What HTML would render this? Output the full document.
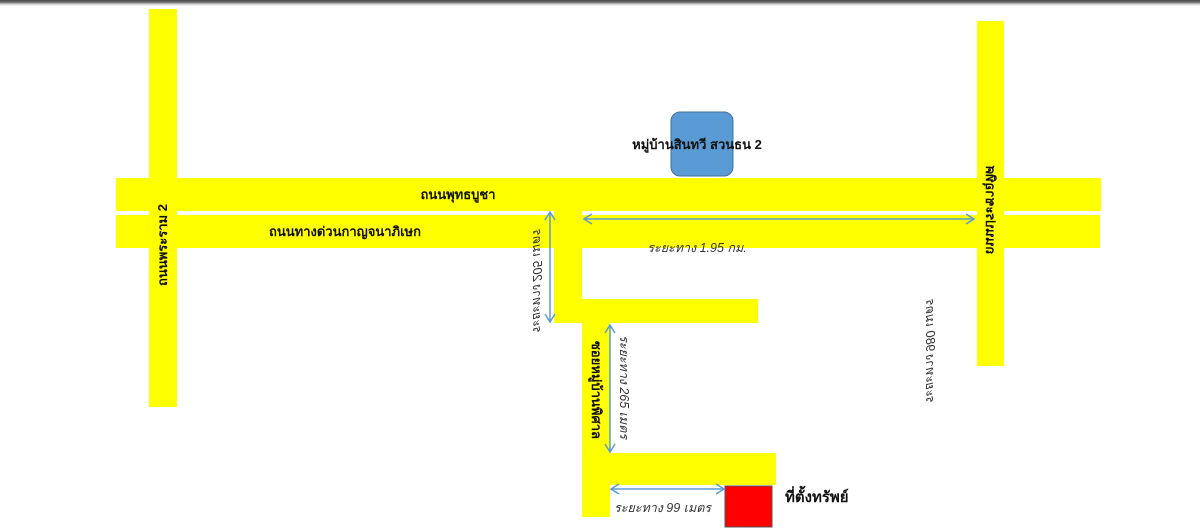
<!DOCTYPE html>
<html><head><meta charset="utf-8"><style>
html,body{margin:0;padding:0;background:#fff;}
body{width:1200px;height:532px;overflow:hidden;position:relative;}
svg{position:absolute;left:0;top:0;}
text{font-family:"Liberation Sans","Noto Sans CJK SC",sans-serif;}
</style></head><body>
<svg width="1200" height="532" viewBox="0 0 1200 532" xmlns="http://www.w3.org/2000/svg">
<defs>
<linearGradient id="sh" x1="0" y1="0" x2="0" y2="1"><stop offset="0" stop-color="#444"/><stop offset="0.35" stop-color="#777"/><stop offset="1" stop-color="#fff" stop-opacity="0"/></linearGradient>
</defs>
<rect x="0" y="0" width="1200" height="7" fill="url(#sh)"/>
<g fill="#ffff00">
<rect x="149" y="9" width="28" height="398"/>
<rect x="977" y="21" width="27" height="345"/>
<rect x="116" y="178" width="985" height="33"/>
<rect x="116" y="215" width="984" height="33"/>
<rect x="554" y="211" width="28" height="112"/>
<rect x="582" y="299" width="176" height="24"/>
<rect x="582" y="323" width="28" height="194"/>
<rect x="610" y="453" width="166" height="32"/>
</g>
<rect x="671" y="112" width="62" height="64" rx="9" fill="#5b9bd5" stroke="#41719c" stroke-width="1"/>
<rect x="725" y="486" width="47" height="41" fill="#ff0000" stroke="#555" stroke-width="1"/>
<g stroke="#5b9bd5" stroke-width="1.5" fill="none">
<line x1="584" y1="219" x2="974" y2="219"/>
<polyline points="592,214 584,219 592,224"/><polyline points="966,214 974,219 966,224"/>
<line x1="550" y1="212" x2="550" y2="322"/>
<polyline points="545,220 550,212 555,220"/><polyline points="545,314 550,322 555,314"/>
<line x1="610" y1="325" x2="610" y2="452"/>
<polyline points="605,333 610,325 615,333"/><polyline points="605,444 610,452 615,444"/>
<line x1="611" y1="489" x2="724" y2="489"/>
<polyline points="619,484 611,489 619,494"/><polyline points="716,484 724,489 716,494"/>
</g>
<g fill="#111" font-weight="bold" font-size="13">
<text x="697" y="149" text-anchor="middle">หมู่บ้านสินทวี สวนธน 2</text>
<text x="458" y="199" text-anchor="middle">ถนนพุทธบูชา</text>
<text x="345" y="236" text-anchor="middle">ถนนทางด่วนกาญจนาภิเษก</text>
<text transform="translate(167,245) rotate(-90)" text-anchor="middle">ถนนพระราม 2</text>
<text transform="translate(986,210) rotate(90) scale(-1,1)" text-anchor="middle">ถนนประชาอุทิศ</text>
<text transform="translate(592,390) rotate(90)" text-anchor="middle">ซอยหมู่บ้านพิศาล</text>
<text x="785" y="502" font-size="15">ที่ตั้งทรัพย์</text>
</g>
<g fill="#333" font-style="italic" font-size="12.5">
<text x="697" y="252" text-anchor="middle">ระยะทาง 1.95 กม.</text>
<text transform="translate(533,282) rotate(90) scale(-1,1)" text-anchor="middle">ระยะทาง 205 เมตร</text>
<text transform="translate(620,387) rotate(90)" text-anchor="middle">ระยะทาง 265 เมตร</text>
<text transform="translate(926,352) rotate(90) scale(-1,1)" text-anchor="middle">ระยะทาง 980 เมตร</text>
<text x="614" y="512">ระยะทาง 99 เมตร</text>
</g>
</svg>
</body></html>
